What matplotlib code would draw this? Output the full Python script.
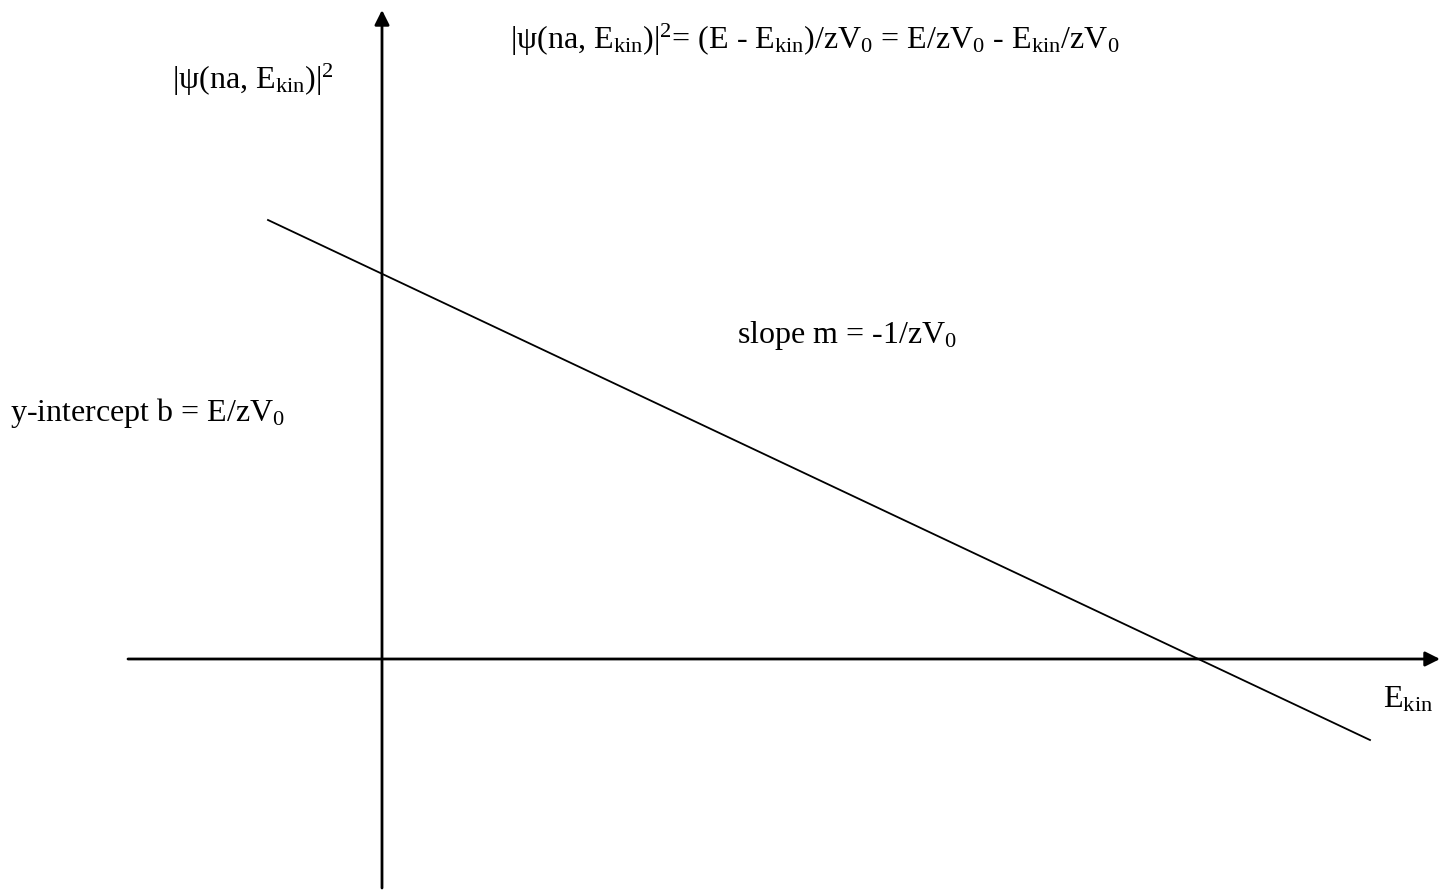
import matplotlib
matplotlib.use('Agg')
import matplotlib.pyplot as plt

plt.rcParams['font.family'] = ['Liberation Serif', 'DejaVu Serif']
plt.rcParams['mathtext.default'] = 'regular'

# axis extents (diagram units, origin at the axes crossing)
x_axis = [-254, 1058]
y_axis = [-229, 649]

# the straight line |psi|^2 vs E_kin
line_x = [-114, 988]
line_y = [439, -81]

labels = {
    'formula': (128, 619, '|ψ(na, E$_{kin}$)|$^2$= (E - E$_{kin}$)/zV$_0$ = E/zV$_0$ - E$_{kin}$/zV$_0$'),
    'ylabel': (-210, 579, '|ψ(na, E$_{kin}$)|$^2$'),
    'slope': (355, 324, 'slope m = -1/zV$_0$'),
    'intercept': (-372, 246, 'y-intercept b = E/zV$_0$'),
    'xlabel': (1001, -41, 'E$_{kin}$'),
}

fig = plt.figure(figsize=(14.53, 8.90), dpi=100)
ax = fig.add_axes([0, 0, 1, 1])
ax.set_xlim(-382, 1453 - 382)
ax.set_ylim(659 - 890, 659)
ax.axis('off')

arrow = dict(arrowstyle='-|>', mutation_scale=22, lw=2, color='black',
             shrinkA=0, shrinkB=0)
ax.annotate('', xy=(x_axis[1], 0), xytext=(x_axis[0], 0), arrowprops=arrow)
ax.annotate('', xy=(0, y_axis[1]), xytext=(0, y_axis[0]), arrowprops=arrow)

ax.plot(line_x, line_y, color='black', lw=1.3)

for key, (x, y, s) in labels.items():
    ax.text(x, y, s, fontsize=23, ha='left', va='center')

fig.savefig('out.png', dpi=100, facecolor='white')
